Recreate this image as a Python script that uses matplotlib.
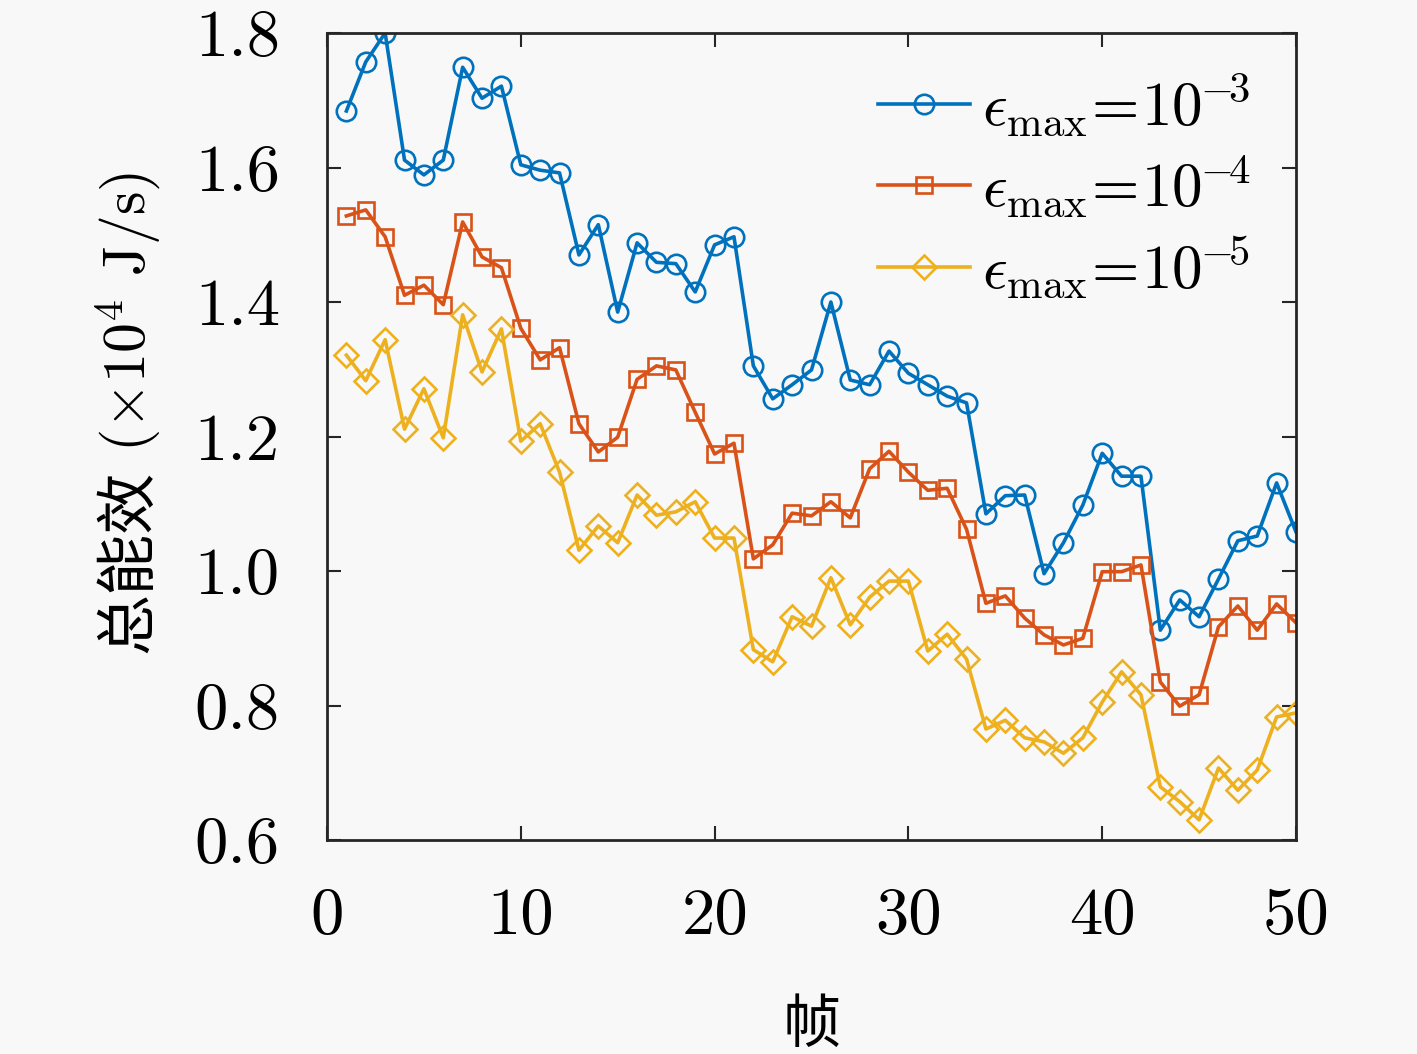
import matplotlib
matplotlib.use("Agg")
import matplotlib.pyplot as plt
import numpy as np

frames = list(range(1, 51))
eff_1e3 = [1.684, 1.757, 1.800, 1.611, 1.589, 1.611, 1.749, 1.703, 1.721, 1.604,
           1.596, 1.592, 1.470, 1.515, 1.385, 1.488, 1.459, 1.457, 1.415, 1.485,
           1.497, 1.305, 1.256, 1.277, 1.299, 1.400, 1.284, 1.277, 1.327, 1.294,
           1.277, 1.260, 1.250, 1.085, 1.112, 1.113, 0.996, 1.042, 1.098, 1.175,
           1.141, 1.141, 0.912, 0.957, 0.932, 0.988, 1.045, 1.052, 1.131, 1.058]
eff_1e4 = [1.528, 1.537, 1.497, 1.410, 1.425, 1.396, 1.519, 1.467, 1.451, 1.361,
           1.314, 1.332, 1.219, 1.177, 1.199, 1.285, 1.305, 1.299, 1.236, 1.174,
           1.190, 1.018, 1.039, 1.086, 1.082, 1.103, 1.079, 1.152, 1.178, 1.147,
           1.120, 1.123, 1.062, 0.952, 0.963, 0.930, 0.905, 0.890, 0.900, 0.999,
           0.999, 1.009, 0.835, 0.799, 0.816, 0.917, 0.948, 0.912, 0.951, 0.923]
eff_1e5 = [1.321, 1.283, 1.344, 1.211, 1.271, 1.198, 1.381, 1.296, 1.360, 1.193,
           1.219, 1.147, 1.031, 1.067, 1.042, 1.113, 1.083, 1.088, 1.103, 1.049,
           1.049, 0.883, 0.865, 0.932, 0.918, 0.990, 0.920, 0.961, 0.985, 0.985,
           0.881, 0.906, 0.869, 0.765, 0.778, 0.752, 0.746, 0.729, 0.752, 0.805,
           0.850, 0.816, 0.679, 0.657, 0.630, 0.707, 0.674, 0.704, 0.783, 0.789]
labels = [r'$\epsilon_{\mathrm{max}}\!=\!10^{\!\!-\!\!3}$',
          r'$\epsilon_{\mathrm{max}}\!=\!10^{\!\!-\!\!4}$',
          r'$\epsilon_{\mathrm{max}}\!=\!10^{\!\!-\!\!5}$']
xticks = [0, 10, 20, 30, 40, 50]
yticks = [0.6, 0.8, 1.0, 1.2, 1.4, 1.6, 1.8]
ytick_labels = ['0.6', '0.8', '1.0', '1.2', '1.4', '1.6', '1.8']
xlabel = '帧'
ylabel_cn = '总能效'
ylabel_unit = r'($\times 10^4$ J/s)'

plt.rcParams['font.family'] = ['cmr10', 'Noto Sans CJK SC', 'DejaVu Sans']
plt.rcParams['mathtext.fontset'] = 'cm'
plt.rcParams['axes.formatter.use_mathtext'] = True

bg = '#f8f8f8'
W, H = 1417, 1054
fig = plt.figure(figsize=(W / 100, H / 100), dpi=100, facecolor=bg)
ax = fig.add_axes([327 / W, 1 - 840 / H, (1296 - 327) / W, (840 - 33) / H])
ax.set_facecolor(bg)

colors = ['#0072BD', '#D95319', '#EDB120']
markers = ['o', 's', 'D']
msizes = [14, 11, 12]
for ys, c, m, ms, lab in zip([eff_1e3, eff_1e4, eff_1e5], colors, markers, msizes, labels):
    ax.plot(frames, ys, color=c, lw=2.6, marker=m, ms=ms, mfc='none', mec=c,
            mew=1.9, label=lab)

ax.set_xlim(0, 50)
ax.set_ylim(0.6, 1.8)
ax.set_xticks(xticks)
ax.set_xticklabels([str(t) for t in xticks])
ax.set_yticks(yticks)
ax.set_yticklabels(ytick_labels)
ax.tick_params(direction='in', length=10, width=1.5, labelsize=48, pad=34,
               top=True, right=True, colors='#262626', labelcolor='black')
for s in ax.spines.values():
    s.set_linewidth(2.0)
    s.set_color('#262626')

ax.set_xlabel(xlabel, fontsize=42, labelpad=38)

# y label made of two pieces: CJK text and math unit
yx = 146 / W
fig.text(yx, 1 - 470 / H, ylabel_cn, rotation=90, rotation_mode='anchor',
         ha='right', va='baseline', fontsize=44,
         family=['Noto Sans CJK SC', 'DejaVu Sans'])
fig.text(yx, 1 - 452 / H, ylabel_unit, rotation=90, rotation_mode='anchor',
         ha='left', va='baseline', fontsize=43)

leg = ax.legend(loc='upper right', bbox_to_anchor=(0.985, 0.99), frameon=False,
                fontsize=44, handlelength=1.5, handletextpad=0.2,
                labelspacing=0.24, borderaxespad=0.1)

fig.savefig('out.png', dpi=100, facecolor=bg)
